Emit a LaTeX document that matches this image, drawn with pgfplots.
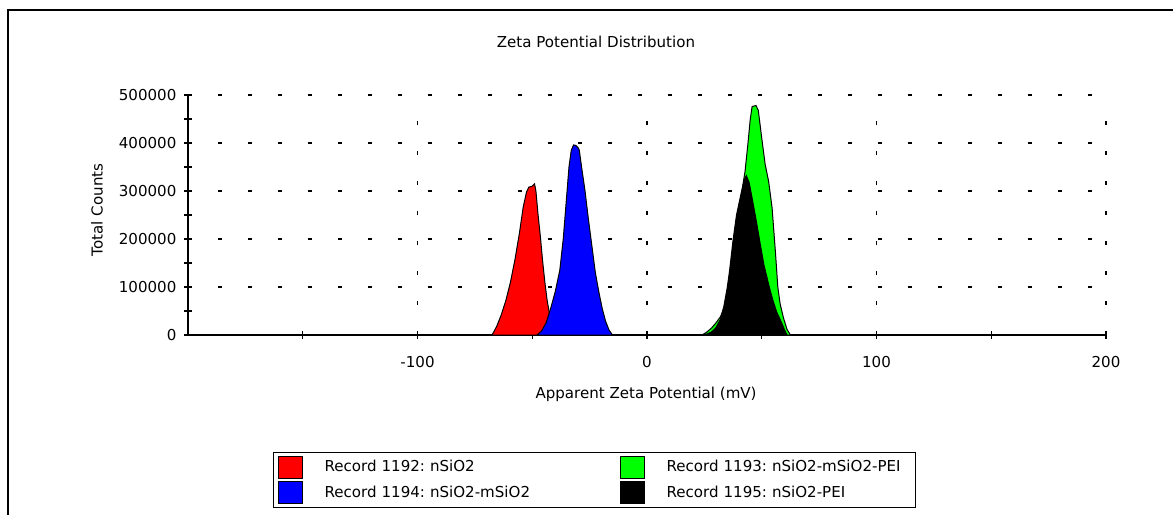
\documentclass[border=0pt]{standalone}
\usepackage{fontspec}
\setmainfont{DejaVu Sans}
\usepackage{pgfplots}
\pgfplotsset{compat=1.18}

\newcommand{\chartfont}{\fontsize{11.3}{13.5}\selectfont\frenchspacing}

\begin{document}
\begin{tikzpicture}[font=\chartfont]
% page size 1173x515 px, 1 px = 0.75pt
\path[use as bounding box] (0,0) rectangle (879.75pt,386.25pt);
\draw[line width=1.5pt] (6pt,0) -- (6pt,378.75pt) -- (879.75pt,378.75pt);

\begin{axis}[
  at={(141pt,135pt)}, anchor=south west,
  scale only axis, width=688.5pt, height=180pt,
  xmin=-200, xmax=200, ymin=0, ymax=500000,
  axis x line*=bottom, axis y line*=left,
  axis line style={line width=1.1pt, black, -},
  xtick={-100,0,100,200}, minor xtick={-150,-50,50,150},
  ytick={0,100000,200000,300000,400000,500000},
  minor ytick={50000,150000,250000,350000,450000},
  tick align=center, major tick length=6pt, minor tick length=6pt,
  tick style={black, line width=0.9pt},
  scaled y ticks=false,
  /pgf/number format/assume math mode=true,
  yticklabel style={/pgf/number format/fixed, /pgf/number format/1000 sep={}, xshift=-2.2pt, font=\chartfont},
  xticklabel style={yshift=-9.5pt, font=\chartfont},
  grid=major,
  major grid style={black, line width=0.9pt, dash pattern=on 3pt off 19.5pt},
  title={Zeta Potential Distribution},
  title style={at={(axis description cs:0.4444,1.19)}, anchor=center, font=\chartfont},
  xlabel={Apparent Zeta Potential (mV)},
  xlabel style={at={(axis description cs:0.499,-0.246)}, anchor=center, font=\chartfont},
  ylabel={Total Counts},
  ylabel style={at={(axis description cs:-0.0991,0.521)}, anchor=center, font=\chartfont},
  legend columns=2, transpose legend,
  legend cell align=left,
  legend style={at={(axis description cs:0.0926,-0.4875)}, anchor=north west,
    draw=black, line width=0.8pt, inner xsep=3pt, inner ysep=2.25pt,
    row sep=2.2pt, font=\chartfont,
    nodes={inner sep=0pt, text width=184pt},
    /tikz/every odd column/.append style={column sep=16.5pt},
    /tikz/column 2/.append style={column sep=37.25pt}},
  legend image code/.code={\draw[#1, draw=black, line width=0.75pt] (0pt,-8.25pt) rectangle (18pt,8.25pt);},
]

\addplot[fill=red, draw=black, line width=0.75pt] coordinates {
  (-67.5,0) (-65.5,18000) (-63.5,42000) (-61.5,72000) (-59.5,110000)
  (-57.5,158000) (-55.5,215000) (-54,265000) (-52.5,298000) (-51.5,308000)
  (-50,310000) (-49,315000) (-48.4,300000) (-47.5,252000) (-46.5,207000)
  (-45.5,155000) (-44.5,110000) (-43.5,72000) (-42.5,44000) (-41.5,22000)
  (-40.5,7000) (-39.5,0)
} \closedcycle;
\addlegendentry{Record 1192: nSiO2}

\addplot[fill=blue, draw=black, line width=0.75pt] coordinates {
  (-48,0) (-46,8000) (-44,25000) (-42,55000) (-40,90000) (-38,135000)
  (-36.5,200000) (-35,290000) (-34,350000) (-33,385000) (-32,396000)
  (-31,395000) (-30,390000) (-29.5,385000) (-28.5,350000) (-27,300000)
  (-25.5,240000) (-24,185000) (-22.5,130000) (-21,90000) (-19.5,55000)
  (-18,28000) (-16.5,10000) (-15,0)
} \closedcycle;
\addlegendentry{Record 1194: nSiO2-mSiO2}

\addplot[fill=green, draw=black, line width=0.75pt] coordinates {
  (24,0) (26,6000) (28,14000) (30,25000) (32,38000) (33.5,55000) (35,85000)
  (37,140000) (39,210000) (41,290000) (42.7,340000) (44,400000) (45,450000)
  (45.8,476000) (47.5,478000) (48.5,468000) (50,410000) (51.5,355000)
  (53,320000) (54.5,265000) (56,170000) (57,100000) (58,65000) (59.5,35000)
  (61,12000) (62.5,0)
} \closedcycle;
\addlegendentry{Record 1193: nSiO2-mSiO2-PEI}

\addplot[fill=black, draw=black, line width=0.75pt] coordinates {
  (24,0) (26,2000) (28,6000) (30,15000) (32,33000) (33.5,60000) (35,100000)
  (36,135000) (37.5,198000) (39,250000) (41,295000) (42.5,325000)
  (43.3,332000) (44.5,318000) (46,280000) (47.8,233000) (49.5,185000)
  (51,145000) (53.6,94000) (55,70000) (56.5,48000) (58.7,25000) (60,10000) (61,0)
} \closedcycle;
\addlegendentry{Record 1195: nSiO2-PEI}

\end{axis}
\end{tikzpicture}
\end{document}
